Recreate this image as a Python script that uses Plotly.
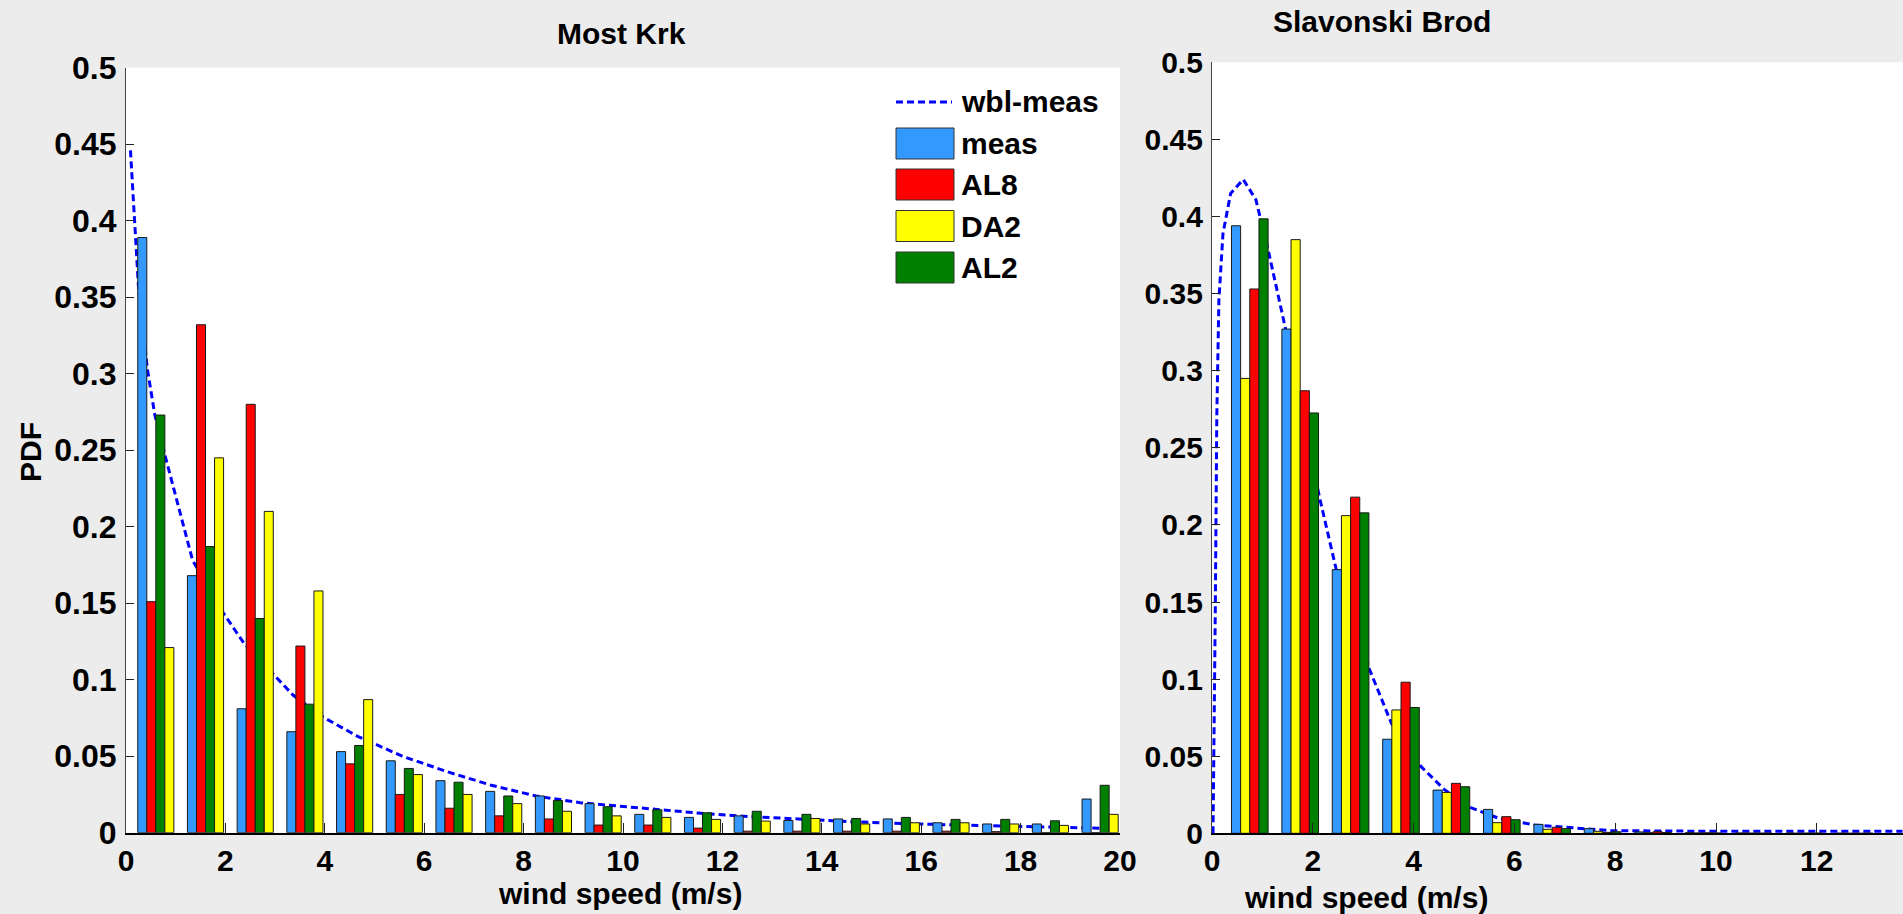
import plotly.graph_objects as go

# ---------------- data: Most Krk ----------------
krk_bins = [0.6, 1.6, 2.6, 3.6, 4.6, 5.6, 6.6, 7.6, 8.6, 9.6,
            10.6, 11.6, 12.6, 13.6, 14.6, 15.6, 16.6, 17.6, 18.6, 19.6]
krk_meas = [0.389, 0.168, 0.081, 0.066, 0.053, 0.047, 0.034, 0.027, 0.024, 0.019,
            0.012, 0.010, 0.011, 0.008, 0.009, 0.009, 0.0065, 0.0057, 0.0057, 0.022]
krk_al8 = [0.151, 0.332, 0.280, 0.122, 0.045, 0.025, 0.016, 0.011, 0.009, 0.005,
           0.005, 0.003, 0.001, 0.001, 0.001, 0.001, 0.001, 0.0007, 0.0, 0.0]
krk_al2 = [0.273, 0.187, 0.140, 0.084, 0.057, 0.042, 0.033, 0.024, 0.021, 0.017,
           0.015, 0.013, 0.014, 0.012, 0.0093, 0.010, 0.0087, 0.0087, 0.0078, 0.031]
krk_da2 = [0.121, 0.245, 0.210, 0.158, 0.087, 0.038, 0.025, 0.019, 0.014, 0.011,
           0.010, 0.0087, 0.0076, 0.0093, 0.0057, 0.0065, 0.0065, 0.0057, 0.0048, 0.012]
krk_wbl_x = [0.09, 0.18, 0.25, 0.43, 0.58, 0.79, 1.34, 1.97, 2.37, 2.95, 3.36, 3.94,
             4.66, 5.56, 6.45, 7.35, 8.25, 9.14, 10.04, 10.56, 11.57, 12.58, 13.58,
             14.59, 15.93, 17.27, 18.61, 19.95]
krk_wbl_y = [0.446, 0.400, 0.357, 0.303, 0.273, 0.246, 0.178, 0.143, 0.124, 0.104, 0.090,
             0.076, 0.063, 0.050, 0.040, 0.031, 0.024, 0.0196, 0.017, 0.0153, 0.0127,
             0.0105, 0.0087, 0.0072, 0.0057, 0.0046, 0.0035, 0.0026]

# ---------------- data: Slavonski Brod ----------------
sb_bins = [0.75, 1.75, 2.75, 3.75, 4.75, 5.75, 6.75, 7.75, 8.75, 9.75, 10.75, 11.75, 12.75]
sb_meas = [0.394, 0.327, 0.171, 0.061, 0.028, 0.0155, 0.0058, 0.003, 0.0009, 0.0004, 0.0002, 0.0001, 0.0001]
sb_da2 = [0.295, 0.385, 0.206, 0.080, 0.0265, 0.0069, 0.0026, 0.0013, 0.0004, 0.0002, 0.0001, 0.0, 0.0]
sb_al8 = [0.353, 0.287, 0.218, 0.098, 0.0324, 0.0108, 0.0039, 0.0006, 0.001, 0.0003, 0.0001, 0.0001, 0.0]
sb_al2 = [0.3985, 0.2726, 0.2078, 0.0816, 0.0302, 0.0088, 0.003, 0.001, 0.0005, 0.0002, 0.0001, 0.0001, 0.0001]
sb_wbl_x = [0.02, 0.04, 0.066, 0.095, 0.137, 0.218, 0.37, 0.62, 0.87, 1.13, 1.33, 1.45,
            2.13, 2.46, 3.13, 3.56, 4.15, 4.62, 5.08, 5.69, 6.40, 7.42, 7.92, 10.0, 13.7]
sb_wbl_y = [0.0, 0.06, 0.147, 0.270, 0.346, 0.389, 0.415, 0.424, 0.411, 0.376, 0.346, 0.3285,
            0.2183, 0.1718, 0.1059, 0.0713, 0.0432, 0.0281, 0.0173, 0.0097, 0.0054, 0.0026,
            0.0017, 0.0013, 0.0013]

series_names = ["wbl-meas", "meas", "AL8", "DA2", "AL2"]
colors = {"meas": "#3399FF", "AL8": "#FF0000", "DA2": "#FFFF00", "AL2": "#008000"}
y_ticks = [0, 0.05, 0.1, 0.15, 0.2, 0.25, 0.3, 0.35, 0.4, 0.45, 0.5]
krk_xticks = [0, 2, 4, 6, 8, 10, 12, 14, 16, 18, 20]
sb_xticks = [0, 2, 4, 6, 8, 10, 12]

W, H = 1903, 914
FONT = "Liberation Sans, Arial, sans-serif"
LINE_COLOR = "#0000FF"
BG = "#ececec"


def px(x):
    return x / W


def py(y):
    return 1 - y / H


fig = go.Figure()

# dashed Weibull lines on base axes (drawn below bars)
fig.add_trace(go.Scatter(x=krk_wbl_x, y=krk_wbl_y, mode="lines", xaxis="x", yaxis="y",
                         line=dict(color=LINE_COLOR, width=3, dash="7px,4px"),
                         showlegend=False, name="wbl-meas"))
fig.add_trace(go.Scatter(x=sb_wbl_x, y=sb_wbl_y, mode="lines", xaxis="x2", yaxis="y2",
                         line=dict(color=LINE_COLOR, width=3, dash="7px,4px"),
                         showlegend=False, name="wbl-meas"))

bar_line = dict(color="#1a1a1a", width=1)
for name, vals in [("meas", krk_meas), ("AL8", krk_al8), ("AL2", krk_al2), ("DA2", krk_da2)]:
    fig.add_trace(go.Bar(x=krk_bins, y=vals, name=name, xaxis="x3", yaxis="y3",
                         marker=dict(color=colors[name], line=bar_line), showlegend=False))
for name, vals in [("meas", sb_meas), ("DA2", sb_da2), ("AL8", sb_al8), ("AL2", sb_al2)]:
    fig.add_trace(go.Bar(x=sb_bins, y=vals, name=name, xaxis="x4", yaxis="y4",
                         marker=dict(color=colors[name], line=bar_line), showlegend=False))

L_dom_x = [px(126), px(1120)]
L_dom_y = [1 - 832.7 / H, 1 - 67.7 / H]
R_dom_x = [px(1212), 1.0]
R_dom_y = [1 - 833.3 / H, 1 - 62.3 / H]
R_xmax = (1903 - 1212) / 50.4

tickfont = dict(family=FONT, size=30, color="black", weight="bold")
tickfont_left_y = dict(family=FONT, size=32, color="black", weight="bold")

xcommon = dict(showgrid=False, zeroline=False, showline=True, linecolor="black", linewidth=2,
               ticks="inside", ticklen=10, tickwidth=1, tickcolor="#222", automargin=False,
               tickfont=tickfont, ticklabelstandoff=0)
ycommon = dict(showgrid=False, zeroline=False, showline=True, linecolor="#444", linewidth=1.2,
               ticks="inside", ticklen=8, tickwidth=1, tickcolor="#222", automargin=False,
               tickvals=y_ticks, ticktext=[f"{v:g}" for v in y_ticks],
               range=[0, 0.5], ticklabelstandoff=2)
hidden = dict(visible=False, automargin=False)

fig.update_layout(
    width=W, height=H, autosize=False,
    margin=dict(l=0, r=0, t=0, b=0, pad=0, autoexpand=False),
    paper_bgcolor=BG, plot_bgcolor="white",
    barmode="group", bargap=0.273, bargroupgap=0,
    showlegend=False,
    xaxis=dict(domain=L_dom_x, anchor="y", range=[0, 20], tickvals=krk_xticks, **xcommon),
    yaxis=dict(domain=L_dom_y, anchor="x", tickfont=tickfont_left_y, **ycommon),
    xaxis2=dict(domain=R_dom_x, anchor="y2", range=[0, R_xmax], tickvals=sb_xticks, **xcommon),
    yaxis2=dict(domain=R_dom_y, anchor="x2", tickfont=tickfont, **ycommon),
    xaxis3=dict(domain=L_dom_x, overlaying="x", anchor="y3", range=[0, 20], **hidden),
    yaxis3=dict(domain=L_dom_y, overlaying="y", anchor="x3", range=[0, 0.5], **hidden),
    xaxis4=dict(domain=R_dom_x, overlaying="x2", anchor="y4", range=[0, R_xmax], **hidden),
    yaxis4=dict(domain=R_dom_y, overlaying="y2", anchor="x4", range=[0, 0.5], **hidden),
)

bold = dict(family=FONT, size=30, color="black", weight="bold")
ann = [
    dict(text="Most Krk", x=px(621), y=py(33)),
    dict(text="Slavonski Brod", x=px(1382), y=py(22)),
    dict(text="wind speed (m/s)", x=px(620), y=py(893)),
    dict(text="wind speed (m/s)", x=px(1366), y=py(897)),
    dict(text="PDF", x=px(30), y=py(452), textangle=-90),
]
for a in ann:
    fig.add_annotation(xref="paper", yref="paper", showarrow=False, xanchor="center",
                       yanchor="middle", font=bold, **a)

# legend (drawn manually to match the original's large patches)
leg_rows_y = [102, 143.5, 184.5, 226, 267.5]
for name, yc in zip(series_names, leg_rows_y):
    if name == "wbl-meas":
        fig.add_shape(type="line", xref="paper", yref="paper", x0=px(896), x1=px(952),
                      y0=py(yc), y1=py(yc), line=dict(color=LINE_COLOR, width=3, dash="7px,4px"))
    else:
        fig.add_shape(type="rect", xref="paper", yref="paper", x0=px(896), x1=px(954),
                      y0=py(yc - 15.5), y1=py(yc + 15.5), fillcolor=colors[name],
                      line=dict(color="#333", width=1))
    fig.add_annotation(xref="paper", yref="paper", showarrow=False, xanchor="left",
                       yanchor="middle", x=px(959), y=py(yc), text=name, font=bold)

post = ("document.body.style.margin='0';document.body.style.padding='0';"
        "document.body.style.overflow='hidden';document.body.style.background='%s';" % BG)
fig.write_html("out.html", post_script=post, config={"displayModeBar": False})
